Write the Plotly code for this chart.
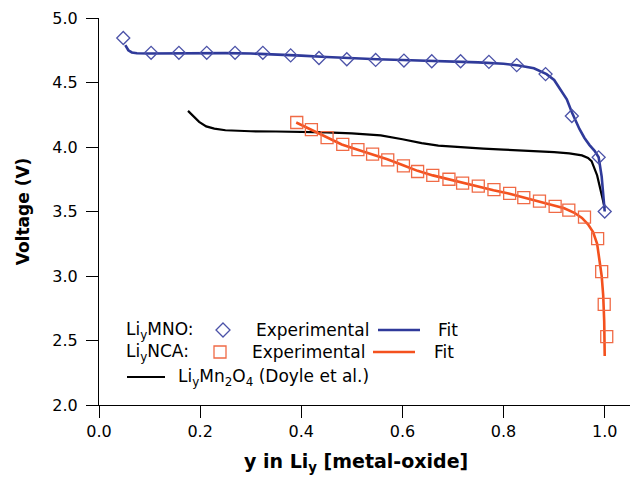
import plotly.graph_objects as go

# ---- data ----
mno_exp_x = [0.048, 0.103, 0.158, 0.213, 0.269, 0.324, 0.379, 0.435, 0.490, 0.547, 0.603, 0.658, 0.715, 0.771, 0.826, 0.883, 0.935, 0.988, 1.0]
mno_exp_v = [4.845, 4.73, 4.73, 4.73, 4.73, 4.73, 4.71, 4.69, 4.68, 4.675, 4.67, 4.665, 4.665, 4.66, 4.635, 4.565, 4.24, 3.92, 3.50]

mno_fit_x = [0.052, 0.058, 0.065, 0.075, 0.1, 0.15, 0.2, 0.25, 0.3, 0.35, 0.4, 0.45, 0.5, 0.55, 0.6, 0.65, 0.7, 0.75, 0.8, 0.83, 0.86, 0.885, 0.9, 0.91, 0.925, 0.935, 0.95, 0.96, 0.97, 0.98, 0.988, 0.994, 1.0]
mno_fit_v = [4.79, 4.75, 4.733, 4.727, 4.725, 4.727, 4.73, 4.728, 4.725, 4.718, 4.708, 4.698, 4.688, 4.68, 4.674, 4.668, 4.663, 4.656, 4.645, 4.632, 4.61, 4.565, 4.52, 4.46, 4.37, 4.27, 4.14, 4.07, 4.015, 3.97, 3.92, 3.77, 3.50]

nca_exp_x = [0.391, 0.420, 0.451, 0.482, 0.512, 0.541, 0.571, 0.602, 0.630, 0.660, 0.692, 0.719, 0.750, 0.781, 0.812, 0.840, 0.871, 0.902, 0.929, 0.960, 0.986, 0.994, 0.999, 1.004]
nca_exp_v = [4.19, 4.135, 4.073, 4.02, 3.98, 3.945, 3.90, 3.853, 3.81, 3.78, 3.75, 3.72, 3.697, 3.67, 3.64, 3.607, 3.58, 3.54, 3.51, 3.456, 3.29, 3.034, 2.78, 2.53]

nca_fit_x = [0.39, 0.42, 0.45, 0.48, 0.51, 0.54, 0.57, 0.6, 0.63, 0.66, 0.69, 0.72, 0.75, 0.78, 0.81, 0.84, 0.87, 0.9, 0.92, 0.94, 0.955, 0.967, 0.977, 0.985, 0.99, 0.994, 0.997, 0.999, 1.0]
nca_fit_v = [4.19, 4.135, 4.075, 4.02, 3.98, 3.945, 3.905, 3.86, 3.815, 3.78, 3.75, 3.72, 3.695, 3.665, 3.64, 3.61, 3.58, 3.55, 3.525, 3.49, 3.45, 3.40, 3.34, 3.25, 3.13, 3.0, 2.85, 2.65, 2.38]

doyle_x = [0.176, 0.186, 0.198, 0.212, 0.228, 0.25, 0.274, 0.3, 0.35, 0.4, 0.45, 0.5, 0.53, 0.557, 0.6, 0.638, 0.671, 0.72, 0.76, 0.80, 0.84, 0.87, 0.90, 0.93, 0.955, 0.967, 0.974, 0.985, 0.997, 1.0]
doyle_v = [4.28, 4.24, 4.195, 4.16, 4.143, 4.13, 4.124, 4.122, 4.12, 4.118, 4.113, 4.105, 4.098, 4.09, 4.06, 4.03, 4.01, 3.995, 3.988, 3.98, 3.973, 3.967, 3.96, 3.95, 3.935, 3.915, 3.89, 3.78, 3.59, 3.53]

x_ticks = [0.0, 0.2, 0.4, 0.6, 0.8, 1.0]
y_ticks = [2.0, 2.5, 3.0, 3.5, 4.0, 4.5, 5.0]

BLUE = "#2f3a9a"
BLUE_M = "#4b52a8"
ORANGE = "#f4511e"
ORANGE_M = "#f06a45"
FONT = "DejaVu Sans"

fig = go.Figure()
fig.add_trace(go.Scatter(x=doyle_x, y=doyle_v, mode="lines", line=dict(color="black", width=2.2), showlegend=False))
fig.add_trace(go.Scatter(x=mno_fit_x, y=mno_fit_v, mode="lines", line=dict(color=BLUE, width=2.6), showlegend=False))
fig.add_trace(go.Scatter(x=mno_exp_x, y=mno_exp_v, mode="markers",
                         marker=dict(symbol="diamond-open", size=10, color=BLUE_M, line=dict(width=1.3)), showlegend=False))
fig.add_trace(go.Scatter(x=nca_fit_x, y=nca_fit_v, mode="lines", line=dict(color=ORANGE, width=2.6), showlegend=False))
fig.add_trace(go.Scatter(x=nca_exp_x, y=nca_exp_v, mode="markers",
                         marker=dict(symbol="square-open", size=12, color=ORANGE_M, line=dict(width=1.3)), showlegend=False))

# page offset (browser body margin) and plot-area geometry in screen pixels
OFF = 8
SL, SR, ST, SB = 99, 630, 18, 405
W, H = 630, 471


def px(x):
    return (x - SL) / (SR - SL)


def py(y):
    return (SB - y) / (SB - ST)


shapes = []
annos = []


def text(x, y, s, size=17, anchor="left"):
    annos.append(dict(x=px(x), y=py(y), xref="paper", yref="paper", text=s, showarrow=False,
                      xanchor=anchor, yanchor="middle", font=dict(family=FONT, size=size, color="black")))


def hline(x0, x1, y, color, w):
    shapes.append(dict(type="line", xref="paper", yref="paper", x0=px(x0), x1=px(x1), y0=py(y), y1=py(y),
                       line=dict(color=color, width=w)))


r1, r2, r3 = 330, 352, 377
text(124, r1, "Li<sub>y</sub>MNO:")
cx, h = 223, 7
shapes.append(dict(type="path", xref="paper", yref="paper",
                   path=f"M {px(cx)} {py(r1-h)} L {px(cx+h)} {py(r1)} L {px(cx)} {py(r1+h)} L {px(cx-h)} {py(r1)} Z",
                   line=dict(color=BLUE_M, width=1.3)))
text(254, r1, "Experimental")
hline(378, 420, r1, BLUE, 2.6)
text(436, r1, "Fit")

text(124, r2, "Li<sub>y</sub>NCA:")
cx, h = 220, 6
shapes.append(dict(type="rect", xref="paper", yref="paper", x0=px(cx-h), x1=px(cx+h), y0=py(r2+h), y1=py(r2-h),
                   line=dict(color=ORANGE_M, width=1.3)))
text(250, r2, "Experimental")
hline(373, 415, r2, ORANGE, 2.6)
text(432, r2, "Fit")

hline(127, 165, r3, "black", 2.2)
text(176, r3, "Li<sub>y</sub>Mn<sub>2</sub>O<sub>4</sub> (Doyle et al.)")

# x-axis title (placed as text centred under the 0..1 span, as in the reference)
text(356, 462, "<b>y in Li<sub>y</sub> [metal-oxide]</b>", size=19, anchor="center")

fig.update_layout(
    width=W, height=H,
    margin=dict(l=SL - OFF, r=W - (SR - OFF), t=ST - OFF, b=H - (SB - OFF), autoexpand=False),
    paper_bgcolor="white", plot_bgcolor="white",
    font=dict(family=FONT, size=16, color="black"),
    shapes=shapes, annotations=annos,
    xaxis=dict(range=[0, 1.05], tickvals=x_ticks, ticktext=[f"{v:.1f}" for v in x_ticks],
               showline=True, linecolor="black", linewidth=1, ticks="outside", ticklen=12,
               tickcolor="black", showgrid=False, zeroline=False),
    yaxis=dict(range=[2, 5], tickvals=y_ticks, ticktext=[f"{v:.1f}" for v in y_ticks],
               showline=True, linecolor="black", linewidth=1, ticks="outside", ticklen=12,
               tickcolor="black", showgrid=False, zeroline=False, ticklabelstandoff=5,
               title=dict(text="<b>Voltage (V)</b>", font=dict(size=17), standoff=18)),
)
fig.write_html("out.html")
